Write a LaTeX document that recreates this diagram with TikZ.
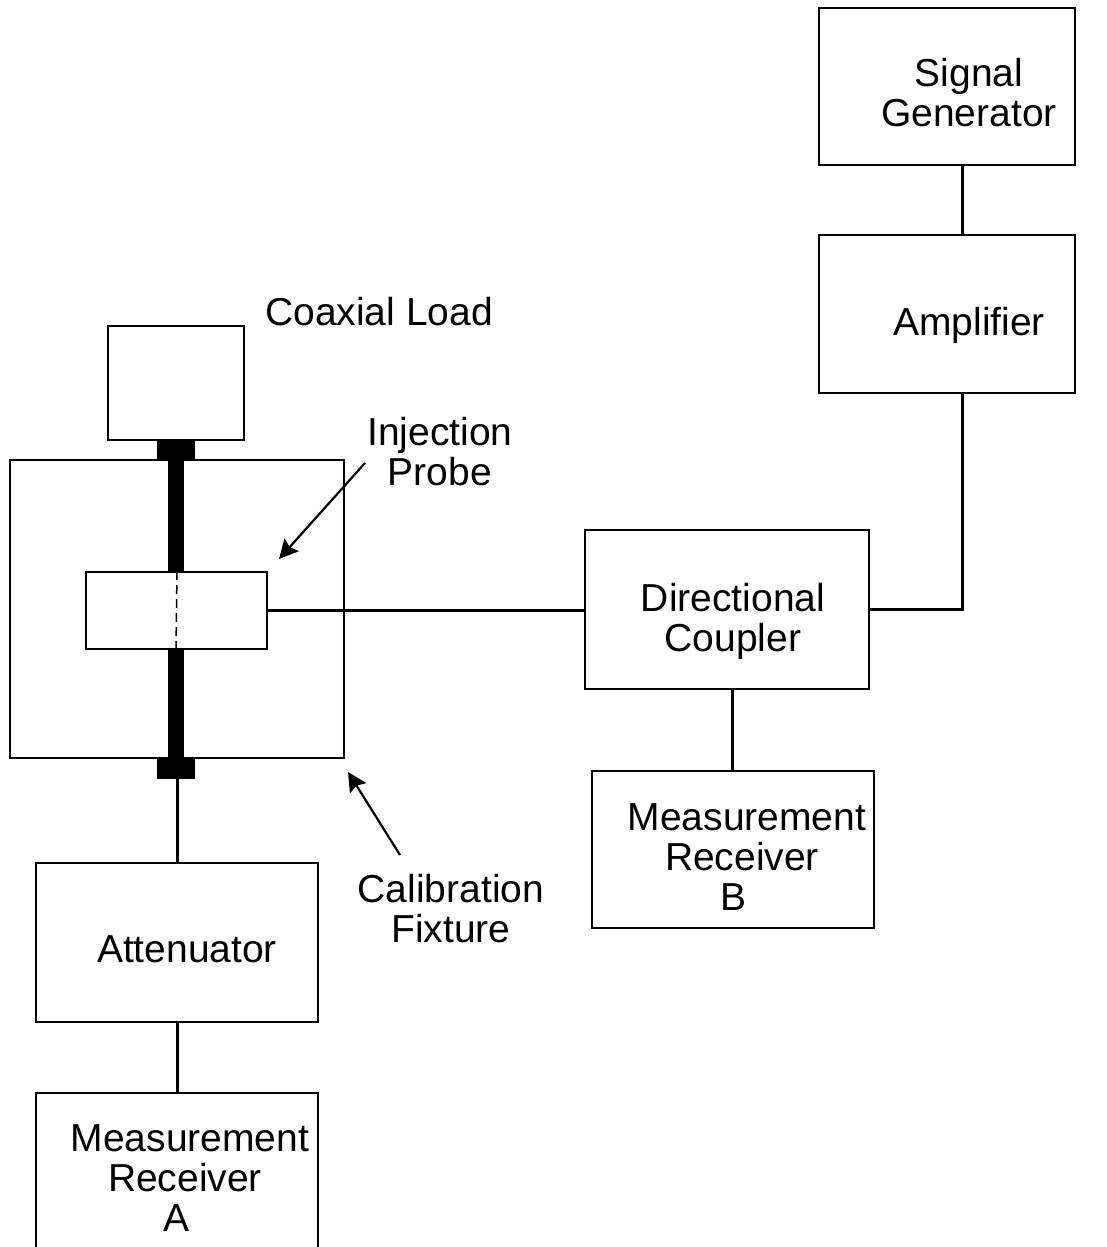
\documentclass[tikz,border=0pt]{standalone}
\usepackage{fontspec}
\setmainfont{Liberation Sans}
\usetikzlibrary{arrows.meta}
\tikzset{
  box/.style={draw, line width=2pt, rectangle, inner sep=0pt},
  lbl/.style={anchor=north, inner sep=0pt, align=center, font=\fontsize{39}{40}\selectfont},
  wire/.style={line width=3pt},
  conductor/.style={line width=16pt},
  plug/.style={fill=black, draw=none, rectangle, inner sep=0pt, minimum width=38pt, minimum height=20pt},
  ptr/.style={line width=2.2pt, -{Stealth[length=19pt,width=19pt,inset=3pt]}}
}
\begin{document}
\begin{tikzpicture}[x=1pt,y=-1pt]
\useasboundingbox (0,0) rectangle (1106,1247);
\clip (0,0) rectangle (1106,1247);
% boxes
\node[box, minimum width=256pt, minimum height=157pt] (sg)    at (947,86.5) {};
\node[box, minimum width=256pt, minimum height=158pt] (amp)   at (947,314) {};
\node[box, minimum width=284pt, minimum height=159pt] (dc)    at (727,609.5) {};
\node[box, minimum width=282pt, minimum height=157pt] (rb)    at (733,849.5) {};
\node[box, minimum width=136pt, minimum height=114pt] (load)  at (176,383) {};
\node[box, minimum width=334pt, minimum height=298pt] (fix)   at (177,609) {};
\node[box, minimum width=282pt, minimum height=159pt] (att)   at (177,942.5) {};
\node[box, minimum width=282pt, minimum height=177pt] (ra)    at (177,1181.5) {};
% conductor through fixture
\node[plug] (plugtop) at (176,450) {};
\node[plug] (plugbot) at (176,768.5) {};
\coordinate (cx) at (176,0);
\node[box, fill=white, minimum width=181pt, minimum height=77pt] (probe) at (176.5,610.5) {};
\draw[conductor] (plugtop.south) -- (probe.north -| cx);
\draw[conductor] (probe.south -| cx) -- (plugbot.north);
\draw[line width=1.5pt, dash pattern=on 9pt off 5pt] ([xshift=1pt]probe.north -| cx) -- (probe.south -| cx);
% wires
\coordinate (busx) at (962,0);
\coordinate (bx) at (732,0);
\coordinate (ax) at (177,0);
\draw[wire] (sg.south -| busx) -- (amp.north -| busx);
\draw[wire] (amp.south -| busx) |- (dc.east);
\draw[wire] (probe.east) -- (probe.east -| dc.west);
\draw[wire] (dc.south -| bx) -- (rb.north -| bx);
\draw[wire] (plugbot.south -| ax) -- (att.north -| ax);
\draw[wire] (att.south -| ax) -- (ra.north -| ax);
% labels
\node[lbl] (tsg)   at (969,58)   {Signal\\Generator};
\node[lbl] (tamp)  at (969,307)  {Amplifier};
\node[lbl] (tload) at (379,297)  {Coaxial Load};
\node[lbl] (tinj)  at (440,417)  {Injection\\Probe};
\node[lbl] (tdc)   at (733,583)  {Directional\\Coupler};
\node[lbl] (trb)   at (747,803)  {Measurement\\Receiver\rule{10pt}{0pt}\\B\rule{28pt}{0pt}};
\node[lbl] (tcal)  at (451,874)  {Calibration\\Fixture};
\node[lbl] (tatt)  at (187,935)  {Attenuator};
\node[lbl] (tra)   at (190,1124) {Measurement\\Receiver\rule{10pt}{0pt}\\A\rule{26pt}{0pt}};
% pointers
\coordinate (injtail) at (365,463);
\coordinate (injtip)  at (279,559);
\coordinate (caltail) at (400,855);
\coordinate (caltip)  at (348,772);
\draw[ptr] (injtail) -- (injtip);
\draw[ptr] (caltail) -- (caltip);
\end{tikzpicture}
\end{document}
